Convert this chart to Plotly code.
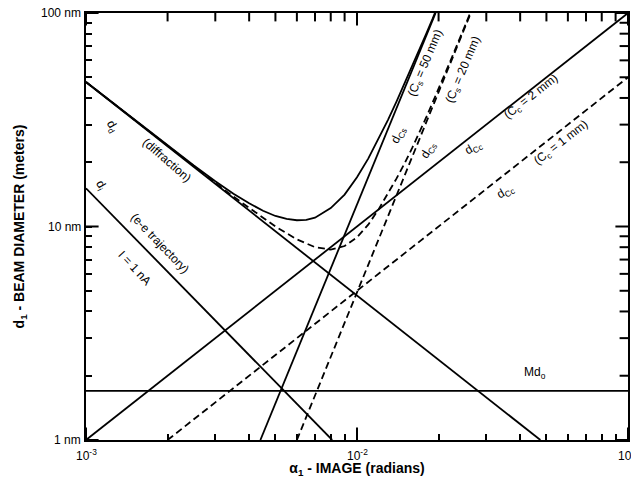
import plotly.graph_objects as go

# ---------------- data ----------------
diff_x = [1e-3, 0.0475]
diff_y = [47.5, 1.0]
ee_x = [1e-3, 8.1e-3]
ee_y = [15.1, 1.0]
md_x = [1e-3, 1e-1]
md_y = [1.7, 1.7]
cc2_x = [1e-3, 1e-1]
cc2_y = [1.0, 100.0]
cc1_x = [2e-3, 1e-1]
cc1_y = [1.0, 50.0]
cs50_x = [4.4e-3, 0.0195]
cs50_y = [1.0, 100.0]
cs20_x = [6.0e-3, 0.0263]
cs20_y = [1.0, 100.0]

tot_solid_x = [1e-3, 1.5e-3, 2e-3, 2.5e-3, 3e-3, 3.5e-3, 4e-3, 4.5e-3, 5e-3, 5.5e-3,
               6e-3, 6.5e-3, 7e-3, 8e-3, 9e-3, 0.01, 0.011, 0.012, 0.013, 0.014,
               0.015, 0.016, 0.017, 0.018, 0.019, 0.0195]
tot_solid_y = [47.5, 31.8, 23.9, 19.3, 16.3, 14.25, 12.85, 11.85, 11.2, 10.85,
               10.7, 10.75, 11.0, 12.2, 14.1, 17.0, 20.8, 25.6, 31.5, 38.6,
               46.9, 56.4, 67.4, 79.8, 93.8, 101.9]
tot_dash_x = [1e-3, 1.5e-3, 2e-3, 2.5e-3, 3e-3, 3.5e-3, 4e-3, 4.5e-3, 5e-3, 6e-3,
              7e-3, 8e-3, 9e-3, 0.01, 0.011, 0.012, 0.013, 0.014, 0.015, 0.016,
              0.018, 0.02, 0.022, 0.024, 0.026, 0.0265]
tot_dash_y = [47.5, 31.7, 23.8, 19.1, 16.0, 13.8, 12.2, 10.95, 10.0, 8.7,
              8.0, 7.8, 8.1, 8.9, 10.2, 12.0, 14.2, 16.8, 19.8, 23.4,
              32.4, 44.0, 58.7, 76.6, 97.9, 103.9]

x_range = [1e-3, 1e-1]
y_range = [1, 100]
x_decades = [1e-3, 1e-2, 1e-1]
x_decade_exp = [-3, -2, -1]
x_ticktext = ["10<sup>-3</sup>", "10<sup>-2</sup>", "10<sup>-1</sup>"]
y_decades = [1, 10, 100]
y_decade_exp = [0, 1, 2]
y_ticktext = ["1 nm", "10 nm", "100 nm"]
x_minor = [m * 10 ** e for e in (-3, -2) for m in range(2, 10)]
y_minor = [m * 10 ** e for e in (0, 1) for m in range(2, 10)]

labels = [
    ("d<sub>d</sub>", -2.904, 1.466, 60),
    ("(diffraction)", -2.702, 1.311, 41),
    ("d<sub>i</sub>", -2.945, 1.19, 60),
    ("(e-e trajectory)", -2.728, 0.923, 46),
    ("I = 1 nA", -2.82, 0.806, 47),
    ("Md<sub>o</sub>", -1.342, 0.314, 0),
    ("d<sub>Cs</sub>", -1.846, 1.429, -65),
    ("d<sub>Cs</sub>", -1.735, 1.358, -60),
    ("d<sub>Cc</sub>", -1.570, 1.368, -30),
    ("(C<sub>c</sub> = 2 mm)", -1.357, 1.607, -38),
    ("(C<sub>c</sub> = 1 mm)", -1.246, 1.391, -38),
    ("d<sub>Cc</sub>", -1.452, 1.162, -30),
    ("(C<sub>s</sub> = 50 mm)", -1.746, 1.766, -67),
    ("(C<sub>s</sub> = 20 mm)", -1.607, 1.733, -67),
]

LC = "black"
FONT = "Liberation Sans, Arial"
fig = go.Figure()

def add(x, y, dash="solid"):
    fig.add_trace(go.Scatter(x=x, y=y, mode="lines", showlegend=False,
                             line=dict(color=LC, width=1.8, dash=dash),
                             hoverinfo="skip"))

add(diff_x, diff_y)
add(ee_x, ee_y)
add(md_x, md_y)
add(cc2_x, cc2_y)
add(cc1_x, cc1_y, "7px,4px")
add(cs50_x, cs50_y)
add(cs20_x, cs20_y, "7px,4px")
add(tot_solid_x, tot_solid_y)
add(tot_dash_x, tot_dash_y, "7px,4px")

# mirrored ticks on top / right and longer decade ticks (markers on the frame,
# clipped to the plot area so only the inner half shows)
def ticks(x, y, symbol, size):
    fig.add_trace(go.Scatter(x=x, y=y, mode="markers", showlegend=False,
                             hoverinfo="skip", cliponaxis=True,
                             marker=dict(symbol=symbol, size=size, color=LC,
                                         line=dict(width=2, color=LC))))

ticks(x_minor, [y_range[1]] * len(x_minor), "line-ns", 12)
ticks([x_range[1]] * len(y_minor), y_minor, "line-ew", 12)
for yv in y_range:
    ticks(x_decades, [yv] * len(x_decades), "line-ns", 18)
for xv in x_range:
    ticks([xv] * len(y_decades), y_decades, "line-ew", 18)

for t, lx, ly, ang in labels:
    fig.add_annotation(x=lx, y=ly, text=t, textangle=ang, showarrow=False,
                       font=dict(family=FONT, size=12, color=LC))

# tick labels as annotations (so the edge labels are never hidden)
for t, e in zip(x_ticktext, x_decade_exp):
    fig.add_annotation(x=e, xref="x", y=0, yref="paper", yanchor="top", yshift=-5,
                       text=t, showarrow=False, font=dict(family=FONT, size=12, color=LC))
for t, e in zip(y_ticktext, y_decade_exp):
    fig.add_annotation(x=0, xref="paper", xanchor="right", xshift=-3, y=e, yref="y",
                       text=t, showarrow=False, font=dict(family=FONT, size=12, color=LC))

x_all = sorted(x_decades + x_minor)
y_all = sorted(y_decades + y_minor)

fig.update_xaxes(type="log", range=[-3, -1], tickmode="array", tickvals=x_all,
                 ticks="inside", ticklen=6, tickwidth=2, tickcolor="black",
                 showticklabels=False, showline=True, linewidth=2, linecolor=LC,
                 mirror=True, showgrid=False, zeroline=False,
                 title=dict(text="<b>α<sub>1</sub> - IMAGE (radians)</b>",
                            font=dict(family=FONT, size=14, color=LC), standoff=22))
fig.update_yaxes(type="log", range=[0, 2], tickmode="array", tickvals=y_all,
                 ticks="inside", ticklen=6, tickwidth=2, tickcolor="black",
                 showticklabels=False, showline=True, linewidth=2, linecolor=LC,
                 mirror=True, showgrid=False, zeroline=False,
                 title=dict(text="<b>d<sub>1</sub> - BEAM DIAMETER (meters)</b>",
                            font=dict(family=FONT, size=14, color=LC), standoff=56))

fig.update_layout(width=623, height=477, plot_bgcolor="white", paper_bgcolor="white",
                  margin=dict(l=78, r=3, t=5, b=45, autoexpand=False))

fig.write_html("out.html")
